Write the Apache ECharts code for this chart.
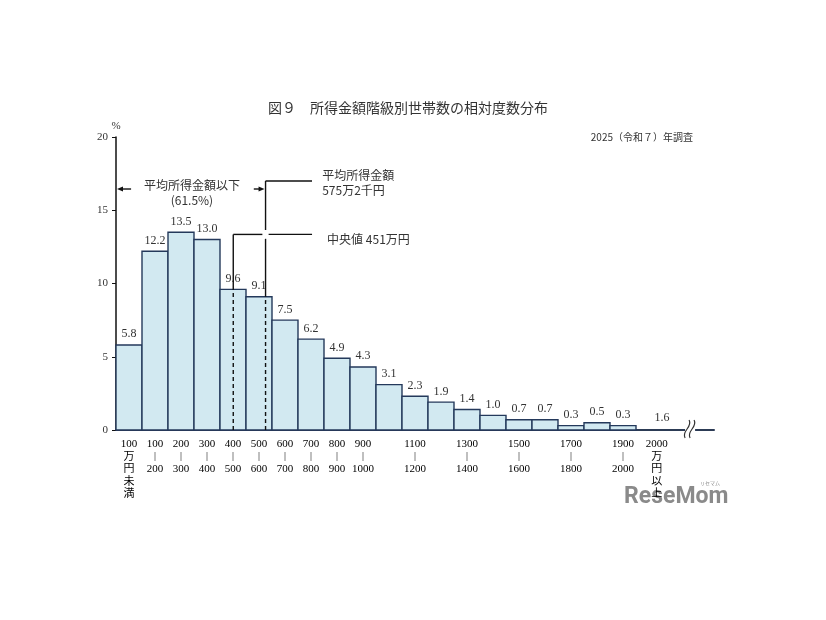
<!DOCTYPE html>
<html><head><meta charset="utf-8">
<script src="https://cdn.jsdelivr.net/npm/echarts@6/dist/echarts.min.js"></script>
<style>html,body{margin:0;padding:0;background:#fff}#c{width:826px;height:620px}</style>
</head><body><div id="c"></div>
<script>
// ---- data ----
const binStarts = [0,100,200,300,400,500,600,700,800,900,1000,1100,1200,1300,1400,1500,1600,1700,1800,1900];
const binEnds   = [100,200,300,400,500,600,700,800,900,1000,1100,1200,1300,1400,1500,1600,1700,1800,1900,2000];
const values    = [5.8,12.2,13.5,13.0,9.6,9.1,7.5,6.2,4.9,4.3,3.1,2.3,1.9,1.4,1.0,0.7,0.7,0.3,0.5,0.3];
const xLabels   = ['100\n万\n円\n未\n満','100\n|\n200','200\n|\n300','300\n|\n400','400\n|\n500','500\n|\n600',
                   '600\n|\n700','700\n|\n800','800\n|\n900','900\n|\n1000','','1100\n|\n1200','','1300\n|\n1400','',
                   '1500\n|\n1600','','1700\n|\n1800','','1900\n|\n2000'];
const topClassStart = 2000, topClassEnd = 2190, topClassValue = 1.6;
const topClassLabel = '2000\n万\n円\n以\n上';
const meanIncome = 575.2, meanText = '575万2千円';
const medianIncome = 451, medianText = '中央値 451万円';
const belowMeanShare = '(61.5%)';
const yMin = 0, yMax = 20, yInterval = 5;
const xMax = 2300;

const SERIF = "'Liberation Serif','Noto Sans CJK JP',serif";
const JP = "'Noto Sans CJK JP','Liberation Serif',sans-serif";

const chart = echarts.init(document.getElementById('c'));

function richLabel(str){
  return str.split('\n').map(s => s === '|' ? '{b||}' : '{n|' + s + '}').join('\n');
}
const labelRich = {
  n:{fontFamily:SERIF, fontSize:11, color:'#333', lineHeight:12.5},
  b:{fontFamily:SERIF, fontSize:10, color:'#aaa', lineHeight:12.5}
};

function renderBar(params, api){
  const s = api.value(0), e = api.value(1), v = api.value(2);
  const idx = params.dataIndex;
  const p0 = api.coord([s, v]), p1 = api.coord([e, 0]);
  const mid = api.coord([(s+e)/2, 0]);
  const children = [{
    type:'rect',
    shape:{x:p0[0], y:p0[1], width:p1[0]-p0[0], height:p1[1]-p0[1]},
    style:{fill:'#d2e9f1', stroke:'#24395b', lineWidth:1.4},
    textContent:{style:{text:v.toFixed(1), fontFamily:SERIF, fontSize:12, fill:'#333'}},
    textConfig:{position:'top', distance:4}
  }];
  if (xLabels[idx]) {
    children.push({type:'text', x:mid[0], y:mid[1]+8,
      style:{text:richLabel(xLabels[idx]), rich:labelRich, align:'center', verticalAlign:'top'}});
  }
  return {type:'group', children};
}

function renderTop(params, api){
  const s = api.value(0), e = api.value(1), v = api.value(2);
  const mid = api.coord([(s+e)/2 - 15, 0]);
  const lab = api.coord([(s+e)/2 + 5, 0]);
  const br = api.coord([2208, 0]);
  const children = [];
  children.push({type:'text', x:lab[0], y:lab[1]-12,
    style:{text:v.toFixed(1), fontFamily:SERIF, fontSize:12, fill:'#333', align:'center', verticalAlign:'middle'}});
  children.push({type:'text', x:mid[0], y:mid[1]+8,
    style:{text:richLabel(topClassLabel), rich:labelRich, align:'center', verticalAlign:'top'}});
  // axis break
  children.push({type:'rect', shape:{x:br[0]-5, y:br[1]-4, width:10, height:8}, style:{fill:'#fff'}});
  [-3, 2].forEach(dx => {
    children.push({type:'bezierCurve', shape:{
      x1:br[0]+dx-2, y1:br[1]+8, x2:br[0]+dx+2, y2:br[1]-10,
      cpx1:br[0]+dx-6, cpy1:br[1]+1, cpx2:br[0]+dx+6, cpy2:br[1]-3},
      style:{stroke:'#333', lineWidth:1.2, fill:null}});
  });
  return {type:'group', children};
}

function renderNotes(params, api){
  const c = (x,y) => api.coord([x,y]);
  const ch = [];
  const line = (a,b,dash) => ({type:'line', shape:{x1:a[0],y1:a[1],x2:b[0],y2:b[1]},
     style:{stroke:'#111', lineWidth:1.4, lineDash: dash ? [4,3] : null}});
  const txt = (p, t, align, size) => ({type:'text', x:p[0], y:p[1],
     style:{text:t, fontFamily:JP, fontSize:size||12, fill:'#333', align:align||'left', verticalAlign:'middle'}});
  const binOf = x => binStarts.findIndex((s,i) => x >= s && x < binEnds[i]);
  const medTop = values[binOf(medianIncome)];
  const meanTop = values[binOf(meanIncome)];
  const medLevel = 13.35, meanLevel = 17.0;
  // median
  ch.push(line(c(medianIncome,0), c(medianIncome,medTop), true));
  ch.push(line(c(medianIncome,medTop), c(medianIncome,medLevel)));
  ch.push(line(c(medianIncome,medLevel), c(563,medLevel)));
  ch.push(line(c(587,medLevel), c(754,medLevel)));
  ch.push(txt(c(812,medLevel-0.35), medianText));
  // mean
  ch.push(line(c(meanIncome,0), c(meanIncome,meanTop), true));
  ch.push(line(c(meanIncome,meanTop), c(meanIncome,medLevel-0.3)));
  ch.push(line(c(meanIncome,medLevel+0.3), c(meanIncome,meanLevel)));
  ch.push(line(c(meanIncome,meanLevel), c(754,meanLevel)));
  ch.push(txt(c(793,meanLevel+0.35), '平均所得金額'));
  ch.push(txt(c(793,meanLevel-0.65), meanText));
  // below-mean arrows
  const ay = 16.45;
  const a1 = c(58, ay), a0 = c(0, ay);
  ch.push(line(a1, [a0[0]+5, a0[1]]));
  ch.push({type:'polygon', shape:{points:[[a0[0]+1,a0[1]],[a0[0]+7,a0[1]-2.5],[a0[0]+7,a0[1]+2.5]]}, style:{fill:'#111'}});
  const b1 = c(530, ay), b0 = c(meanIncome, ay);
  ch.push(line(b1, [b0[0]-5, b0[1]]));
  ch.push({type:'polygon', shape:{points:[[b0[0]-1,b0[1]],[b0[0]-7,b0[1]-2.5],[b0[0]-7,b0[1]+2.5]]}, style:{fill:'#111'}});
  ch.push(txt(c(292,16.72), '平均所得金額以下', 'center'));
  ch.push(txt(c(292,15.7), belowMeanShare, 'center'));
  return {type:'group', children:ch};
}

const option = {
  backgroundColor:'#fff',
  animation:false,
  title:[
    {text:'図９　所得金額階級別世帯数の相対度数分布', left:403, top:96, textAlign:'center',
     textStyle:{fontFamily:JP, fontSize:14, fontWeight:'normal', color:'#333'}},
    {text:'2025（令和７）年調査', right:128, top:127,
     textStyle:{fontFamily:JP, fontSize:10, fontWeight:'normal', color:'#333'}}
  ],
  grid:{left:116, right:112, top:137, bottom:190},
  xAxis:{type:'value', min:0, max:xMax, splitLine:{show:false},
    axisLine:{show:true, lineStyle:{color:'#2c3b55', width:2}},
    axisTick:{show:false}, axisLabel:{show:false}},
  yAxis:{type:'value', min:yMin, max:yMax, interval:yInterval, name:'%',
    nameLocation:'end', nameGap:4,
    nameTextStyle:{fontFamily:SERIF, fontSize:11, color:'#333', align:'center'},
    splitLine:{show:false},
    axisLine:{show:true, lineStyle:{color:'#111', width:1.5}},
    axisTick:{show:true, inside:false, length:4, lineStyle:{color:'#111'}},
    axisLabel:{fontFamily:SERIF, fontSize:11, color:'#333', margin:8}},
  series:[
    {type:'custom', name:'bars', renderItem:renderBar, z:3,
     data:binStarts.map((s,i) => [s, binEnds[i], values[i]]), encode:{x:[0,1], y:2}},
    {type:'custom', name:'top', renderItem:renderTop, z:4,
     data:[[topClassStart, topClassEnd, topClassValue]], encode:{x:[0,1]}},
    {type:'custom', name:'notes', renderItem:renderNotes, z:5,
     data:[[meanIncome, medianIncome]], encode:{x:[0,1]}}
  ],
  graphic:[
    {type:'text', left:624, top:486, style:{text:'ReseMom', fontFamily:"Roboto,'DejaVu Sans',sans-serif", fontSize:23, fontWeight:'bold', fill:'#8a8a8a'}},
    {type:'text', left:700, top:481, style:{text:'リセマム', fontFamily:JP, fontSize:5, fill:'#8a8a8a'}}
  ]
};
chart.setOption(option);
</script></body></html>
